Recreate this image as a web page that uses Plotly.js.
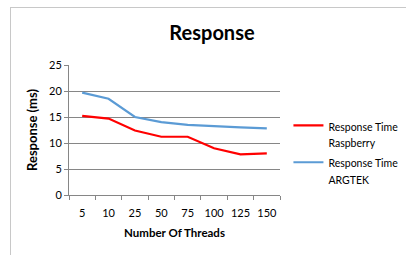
<!DOCTYPE html>
<html>
<head>
<meta charset="utf-8">
<script src="https://cdn.plot.ly/plotly-3.0.1.min.js"></script>
<style>
html,body{margin:0;padding:0;background:#fff;}
#wrap{position:relative;width:406px;height:255px;overflow:hidden;}
#frame{position:absolute;left:10px;top:7px;width:420px;height:270px;border-left:1px solid #c8c8c8;border-top:1px solid #c8c8c8;}
#chart{position:absolute;left:0;top:0;width:460px;height:255px;}
</style>
</head>
<body>
<div id="wrap"><div id="frame"></div><div id="chart"></div></div>
<script>
var categories = ["5", "10", "25", "50", "75", "100", "125", "150"];
var raspberry = [15.2, 14.7, 12.4, 11.2, 11.2, 9.0, 7.8, 8.0];
var argtek = [19.7, 18.5, 15.0, 14.0, 13.5, 13.2, 13.0, 12.8];
var seriesNames = [["Response Time", "Raspberry"], ["Response Time", "ARGTEK"]];

var font = "Lato, 'Open Sans', 'Liberation Sans', sans-serif";

function legendName(parts) {
  return parts.map(function (p) { return "<span style='font-size:10.5px'>" + p + "</span>"; }).join("<br>");
}

var traces = [
  {x: categories, y: raspberry, type: "scatter", mode: "lines", name: legendName(seriesNames[0]),
   line: {color: "#ff0000", width: 2.2}},
  {x: categories, y: argtek, type: "scatter", mode: "lines", name: legendName(seriesNames[1]),
   line: {color: "#5b9bd5", width: 2.2}}
];

var W = 460;
var layout = {
  width: W, height: 255,
  margin: {l: 69, r: W - 280, t: 65, b: 60, pad: 0},
  paper_bgcolor: "rgba(0,0,0,0)",
  plot_bgcolor: "rgba(0,0,0,0)",
  font: {family: font, size: 11, color: "#000"},
  title: {text: "<b>Response</b>", font: {family: font, size: 20, color: "#000"},
          x: 212 / W, xanchor: "center", y: 0.87, yanchor: "middle"},
  xaxis: {
    type: "category", range: [-0.5, 7.5],
    showline: true, linecolor: "#868686", linewidth: 1,
    ticks: "outside", ticklen: 4, tickcolor: "#868686", tickson: "boundaries",
    tickangle: 0, ticklabelstandoff: 8,
    showgrid: false, zeroline: false,
    tickfont: {family: font, size: 11, color: "#000"},
    title: {text: "<b>Number Of Threads</b>", font: {family: font, size: 11.5, color: "#000"}, standoff: 10}
  },
  yaxis: {
    range: [0, 25], dtick: 5, tick0: 0,
    showline: true, linecolor: "#868686", linewidth: 1,
    ticks: "outside", ticklen: 4, tickcolor: "#868686",
    showgrid: true, gridcolor: "#868686", gridwidth: 1, zeroline: false,
    tickfont: {family: font, size: 11, color: "#000"},
    title: {text: "<b>Response (ms)</b>", font: {family: font, size: 13, color: "#000"}, standoff: 8}
  },
  legend: {x: 1.04, xanchor: "left", y: 0.65, yanchor: "top", valign: "top",
           font: {family: font, size: 13, color: "#000"},
           bgcolor: "rgba(0,0,0,0)", tracegroupgap: 6, itemwidth: 30},
  showlegend: true
};

Plotly.newPlot("chart", traces, layout, {displayModeBar: false, staticPlot: true});
</script>
</body>
</html>
